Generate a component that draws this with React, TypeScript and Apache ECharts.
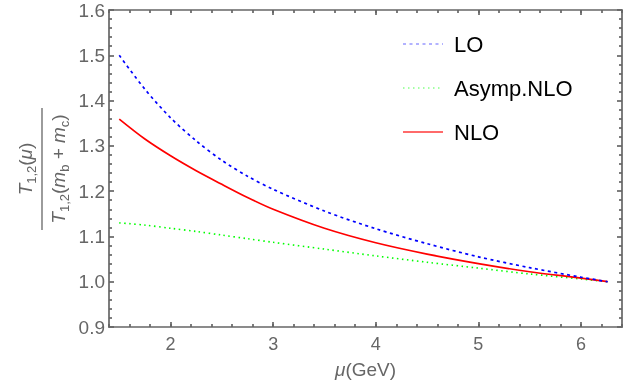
import React, { useEffect, useRef } from "react";
import * as echarts from "echarts";

const FONT = '"Liberation Sans", Arial, sans-serif';

// mu (GeV)
const mu = [1.5, 1.75, 2, 2.25, 2.5, 2.75, 3, 3.5, 4, 4.5, 5, 5.5, 6, 6.26];
const loValues = [1.5, 1.425, 1.362, 1.311, 1.268, 1.233, 1.204, 1.156, 1.117, 1.084, 1.055, 1.031, 1.01, 1.0];
const asympValues = [1.13, 1.125, 1.118, 1.111, 1.103, 1.095, 1.087, 1.072, 1.057, 1.043, 1.03, 1.017, 1.006, 1.0];
const nloValues = [1.359, 1.315, 1.278, 1.245, 1.215, 1.186, 1.16, 1.118, 1.086, 1.061, 1.04, 1.022, 1.008, 1.0];
const xMajorTicks = [2, 3, 4, 5, 6];
const seriesNames = ["LO", "Asymp.NLO", "NLO"];

const AXIS = "#666666";
const lineStyle = { color: AXIS, width: 1.7 };

function App() {
  const ref = useRef<HTMLDivElement>(null);
  useEffect(() => {
    const chart = echarts.init(ref.current!, null, { renderer: "svg" });
    const toData = (vals: number[]) => mu.map((m, i) => [m, vals[i]]);
    const richBase = {
      i: { fontStyle: "italic", fontSize: 19, fontFamily: FONT, fill: AXIS, color: AXIS, lineHeight: 26, verticalAlign: "middle" },
      n: { fontSize: 19, fontFamily: FONT, fill: AXIS, color: AXIS, lineHeight: 26, verticalAlign: "middle" },
      s: { fontSize: 13, fontFamily: FONT, fill: AXIS, color: AXIS, lineHeight: 15, verticalAlign: "bottom" },
    };
    const xBase = (pos: string) => ({
      type: "value",
      position: pos,
      min: 1.4,
      max: 6.4,
      splitLine: { show: false },
    });
    const option: any = {
      animation: false,
      grid: { left: 109, right: 19, top: 10, bottom: 62, outerBoundsMode: "none" },
      xAxis: [
        {
          ...xBase("bottom"),
          interval: 0.2,
          axisLine: { show: true, onZero: false, lineStyle },
          axisTick: { show: true, inside: true, length: 3, lineStyle },
          axisLabel: {
            formatter: (v: number) => (Math.abs(v - Math.round(v)) < 1e-6 ? String(Math.round(v)) : ""),
            color: AXIS,
            fontSize: 18,
            fontFamily: FONT,
            margin: 8,
          },
          name: "{i|μ}(GeV)",
          nameLocation: "middle",
          nameGap: 33,
          nameTextStyle: {
            fontSize: 19,
            color: AXIS,
            fontFamily: FONT,
            rich: { i: { fontStyle: "italic", fontSize: 19, color: AXIS, fontFamily: FONT } },
          },
        },
        {
          ...xBase("bottom"),
          axisLine: { show: false },
          axisTick: { show: true, inside: true, length: 5, customValues: xMajorTicks, lineStyle },
          axisLabel: { show: false },
        },
        {
          ...xBase("top"),
          interval: 0.2,
          axisLine: { show: true, onZero: false, lineStyle },
          axisTick: { show: true, inside: true, length: 3, lineStyle },
          axisLabel: { show: false },
        },
        {
          ...xBase("top"),
          axisLine: { show: false },
          axisTick: { show: true, inside: true, length: 5, customValues: xMajorTicks, lineStyle },
          axisLabel: { show: false },
        },
      ],
      yAxis: [
        {
          type: "value",
          position: "left",
          min: 0.9,
          max: 1.6,
          interval: 0.1,
          axisLine: { show: true, onZero: false, lineStyle },
          axisTick: { show: true, inside: true, length: 5, lineStyle },
          minorTick: { show: true, splitNumber: 5, length: 3, lineStyle },
          axisLabel: { formatter: (v: number) => v.toFixed(1), color: AXIS, fontSize: 19, fontFamily: FONT, margin: 4 },
          splitLine: { show: false },
          minorSplitLine: { show: false },
        },
        {
          type: "value",
          position: "right",
          min: 0.9,
          max: 1.6,
          interval: 0.1,
          axisLine: { show: true, onZero: false, lineStyle },
          axisTick: { show: true, inside: true, length: 5, lineStyle },
          minorTick: { show: true, splitNumber: 5, length: 3, lineStyle },
          axisLabel: { show: false },
          splitLine: { show: false },
          minorSplitLine: { show: false },
        },
      ],
      legend: {
        orient: "vertical",
        left: 397,
        top: 28,
        itemWidth: 40,
        itemHeight: 14,
        itemGap: 22,
        textStyle: { fontSize: 22, color: "#000", fontFamily: FONT, padding: [0, 0, 0, 6] },
        data: [
          { name: seriesNames[0], itemStyle: { opacity: 0 }, lineStyle: { color: "#6666ff", width: 1.2 } },
          { name: seriesNames[1], itemStyle: { opacity: 0 }, lineStyle: { color: "#88ff88", width: 1.4 } },
          { name: seriesNames[2], itemStyle: { opacity: 0 }, lineStyle: { color: "#ff6a6a", width: 2 } },
        ],
      },
      series: [
        {
          type: "line",
          name: seriesNames[1],
          data: toData(asympValues),
          smooth: 0.3,
          symbol: "none",
          itemStyle: { color: "#00ff00" },
          lineStyle: { color: "#00ff00", width: 1.6, type: [1.5, 3.5] },
        },
        {
          type: "line",
          name: seriesNames[2],
          data: toData(nloValues),
          smooth: 0.3,
          symbol: "none",
          itemStyle: { color: "#ff0000" },
          lineStyle: { color: "#ff0000", width: 1.7, type: "solid" },
        },
        {
          type: "line",
          name: seriesNames[0],
          data: toData(loValues),
          smooth: 0.3,
          symbol: "none",
          itemStyle: { color: "#0000ff" },
          lineStyle: { color: "#0000ff", width: 1.7, type: [3, 3.5] },
        },
      ],
      graphic: [
        {
          type: "group",
          x: 42,
          y: 169,
          rotation: Math.PI / 2,
          children: [
            {
              type: "text",
              x: 0,
              y: -17,
              style: { text: "{i|T}{s|1,2}{n|(}{i|μ}{n|)}", rich: richBase, align: "center", verticalAlign: "middle", fill: AXIS },
            },
            {
              type: "line",
              shape: { x1: -61, y1: 0, x2: 61, y2: 0 },
              style: { stroke: AXIS, lineWidth: 1.3 },
            },
            {
              type: "text",
              x: 0,
              y: 16,
              style: {
                text: "{i|T}{s|1,2}{n|(}{i|m}{s|b}{n| + }{i|m}{s|c}{n|)}",
                rich: richBase,
                align: "center",
                verticalAlign: "middle",
                fill: AXIS,
              },
            },
          ],
        },
      ],
    };
    chart.setOption(option);
    return () => chart.dispose();
  }, []);
  return <div ref={ref} style={{ position: "fixed", left: 0, top: 0, width: 641, height: 389 }} />;
}

export default App;
